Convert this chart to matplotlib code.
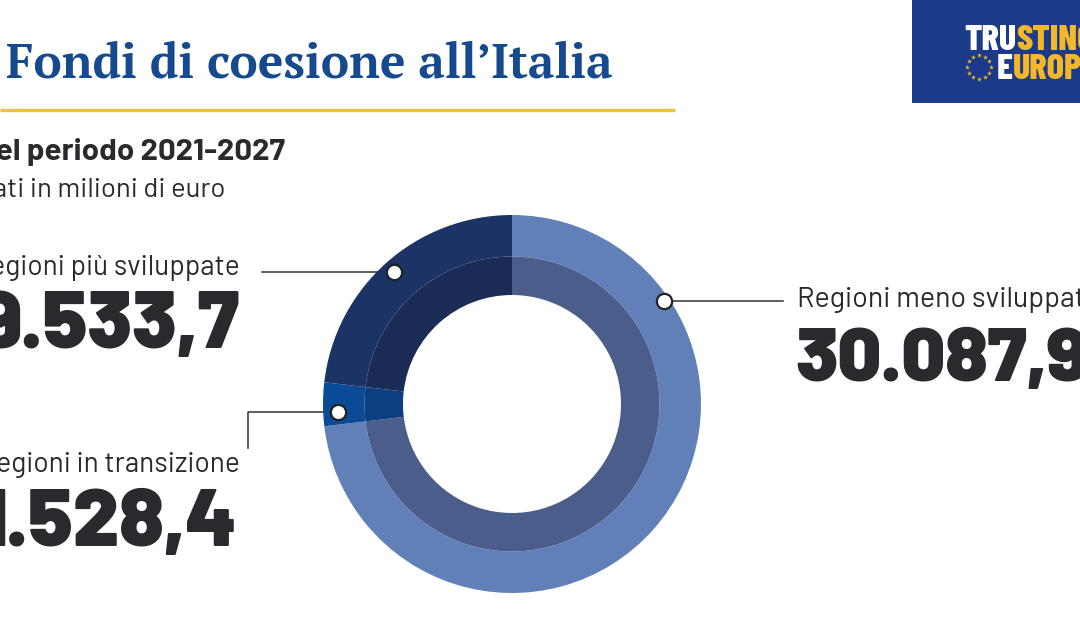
import numpy as np
import matplotlib.pyplot as plt
from matplotlib import font_manager

# data (milioni di euro)
categorie = ["Regioni meno sviluppate", "Regioni in transizione", "Regioni più sviluppate"]
valori = [30087.9, 1528.4, 9533.7]
etichette_valori = ["30.087,9", "1.528,4", "9.533,7"]

col_esterno = ["#6280b8", "#0a4b97", "#1c3366"]
col_interno = ["#4b5d8b", "#0b3f80", "#1a2b56"]

W, H = 1080, 630
cx, cy, R = 512, 404, 189
r_mid, r_in = 147.5, 109


def peso(w):
    if isinstance(w, str):
        return font_manager.weight_dict.get(w, 400)
    return int(w)


_fonts = {(f.name, peso(f.weight)) for f in font_manager.fontManager.ttflist}


def scegli(*cands):
    for nome, w in cands:
        if (nome, w) in _fonts:
            return nome, w
    return "DejaVu Sans", cands[-1][1]


f_num = scegli(("Barlow", 900), ("Barlow", 800), ("Roboto", 900), ("Roboto", 700))
f_lab = scegli(("Barlow", 400), ("Roboto", 400))
f_sub = scegli(("Barlow", 700), ("Roboto", 700))
f_tit = scegli(("Merriweather", 900), ("Merriweather", 700), ("Noto Serif", 800),
               ("Noto Serif", 700), ("PT Serif", 700), ("Roboto Slab", 700),
               ("Bitter", 700), ("Liberation Serif", 700))
f_logo = scegli(("Barlow Condensed", 800), ("Barlow Condensed", 700),
                ("Oswald", 700), ("Roboto", 700))

fig = plt.figure(figsize=(W / 100, H / 100), dpi=100)
fig.patch.set_facecolor("white")
ax = fig.add_axes([0, 0, 1, 1])
ax.set_xlim(0, W)
ax.set_ylim(H, 0)
ax.axis("off")

# donut
pax = fig.add_axes([(cx - R) / W, (H - cy - R) / H, 2 * R / W, 2 * R / H])
pax.pie(valori, radius=1, startangle=90, counterclock=False, colors=col_esterno,
        wedgeprops=dict(width=1 - r_mid / R, linewidth=0))
pax.pie(valori, radius=r_mid / R, startangle=90, counterclock=False, colors=col_interno,
        wedgeprops=dict(width=(r_mid - r_in) / R, linewidth=0))
pax.set_xlim(-1, 1)
pax.set_ylim(-1, 1)
pax.set_aspect("auto")
pax.axis("off")

# marker angles: mid of each slice, except the big one
fr = np.array(valori) / sum(valori)
start = 90 - 360 * np.concatenate([[0], np.cumsum(fr)[:-1]])
mid = start - 180 * fr
ang = [34, mid[1] + 2.5, mid[2]]
r_dot = [0.97, 0.92, 0.935]
dots = []
for a, rd in zip(ang, r_dot):
    t = np.radians(a)
    pax.plot(rd * np.cos(t), rd * np.sin(t), "o", ms=11, mfc="white",
             mec="#222222", mew=1.6, clip_on=False, zorder=5)
    dots.append((cx + R * rd * np.cos(t), cy - R * rd * np.sin(t)))

lc = "#333333"
ax.plot([dots[0][0] + 8, 783], [dots[0][1]] * 2, color=lc, lw=1.1)
ax.plot([262, dots[2][0] - 8], [dots[2][1]] * 2, color=lc, lw=1.1)
ax.plot([248, 248, dots[1][0] - 8], [448, dots[1][1], dots[1][1]], color=lc, lw=1.1)

# title, scaled to the reference width
title = ax.text(6, 77, "Fondi di coesione all’Italia", fontsize=34, fontweight=f_tit[1],
                family=f_tit[0], color="#154a8e", ha="left", va="baseline")
fig.canvas.draw()
bb = title.get_window_extent()
title.set_fontsize(34 * 607 / bb.width)
ax.plot([0, 675], [110, 110], color="#f1c232", lw=2.4, solid_capstyle="butt")

dark = "#2a2a2e"
ax.text(285, 160, "Nel periodo 2021-2027", fontsize=22.5, fontweight=f_sub[1],
        family=f_sub[0], color=dark, ha="right", va="baseline")
ax.text(225, 197, "Dati in milioni di euro", fontsize=19.8, family=f_lab[0],
        color=dark, ha="right", va="baseline")

# labels
ax.text(240, 275, categorie[2], fontsize=20.2, family=f_lab[0], color=dark,
        ha="right", va="baseline")
ax.text(240, 348, etichette_valori[2], fontsize=58, fontweight=f_num[1],
        family=f_num[0], color=dark, ha="right", va="baseline")
ax.text(240, 472, categorie[1], fontsize=20.2, family=f_lab[0], color=dark,
        ha="right", va="baseline")
ax.text(237, 546, etichette_valori[1], fontsize=58, fontweight=f_num[1],
        family=f_num[0], color=dark, ha="right", va="baseline")
ax.text(797, 307, categorie[0], fontsize=20.6, family=f_lab[0], color=dark,
        ha="left", va="baseline")
ax.text(795, 381, etichette_valori[0], fontsize=55, fontweight=f_num[1],
        family=f_num[0], color=dark, ha="left", va="baseline")

# logo
blu = "#1c3a8a"
giallo = "#f3b72b"
ax.add_patch(plt.Rectangle((912, 0), 168, 103, color=blu, lw=0))
t1 = ax.text(964, 50, "TRU", fontsize=26, fontweight=f_logo[1], family=f_logo[0],
             color="white", ha="left", va="baseline")
ax.annotate("STING", xy=(1, 0), xycoords=t1, fontsize=26, fontweight=f_logo[1],
            family=f_logo[0], color=giallo, ha="left", va="bottom")
t2 = ax.text(997, 79, "E", fontsize=26, fontweight=f_logo[1], family=f_logo[0],
             color="white", ha="left", va="baseline")
ax.annotate("UROPE", xy=(1, 0), xycoords=t2, fontsize=26, fontweight=f_logo[1],
            family=f_logo[0], color=giallo, ha="left", va="bottom")
sa = np.radians(np.arange(0, 360, 30))
ax.scatter(979 + 12 * np.cos(sa), 67 + 12 * np.sin(sa), marker="*", s=14,
           color=giallo, lw=0)

fig.savefig("out.png", dpi=100, facecolor="white")
